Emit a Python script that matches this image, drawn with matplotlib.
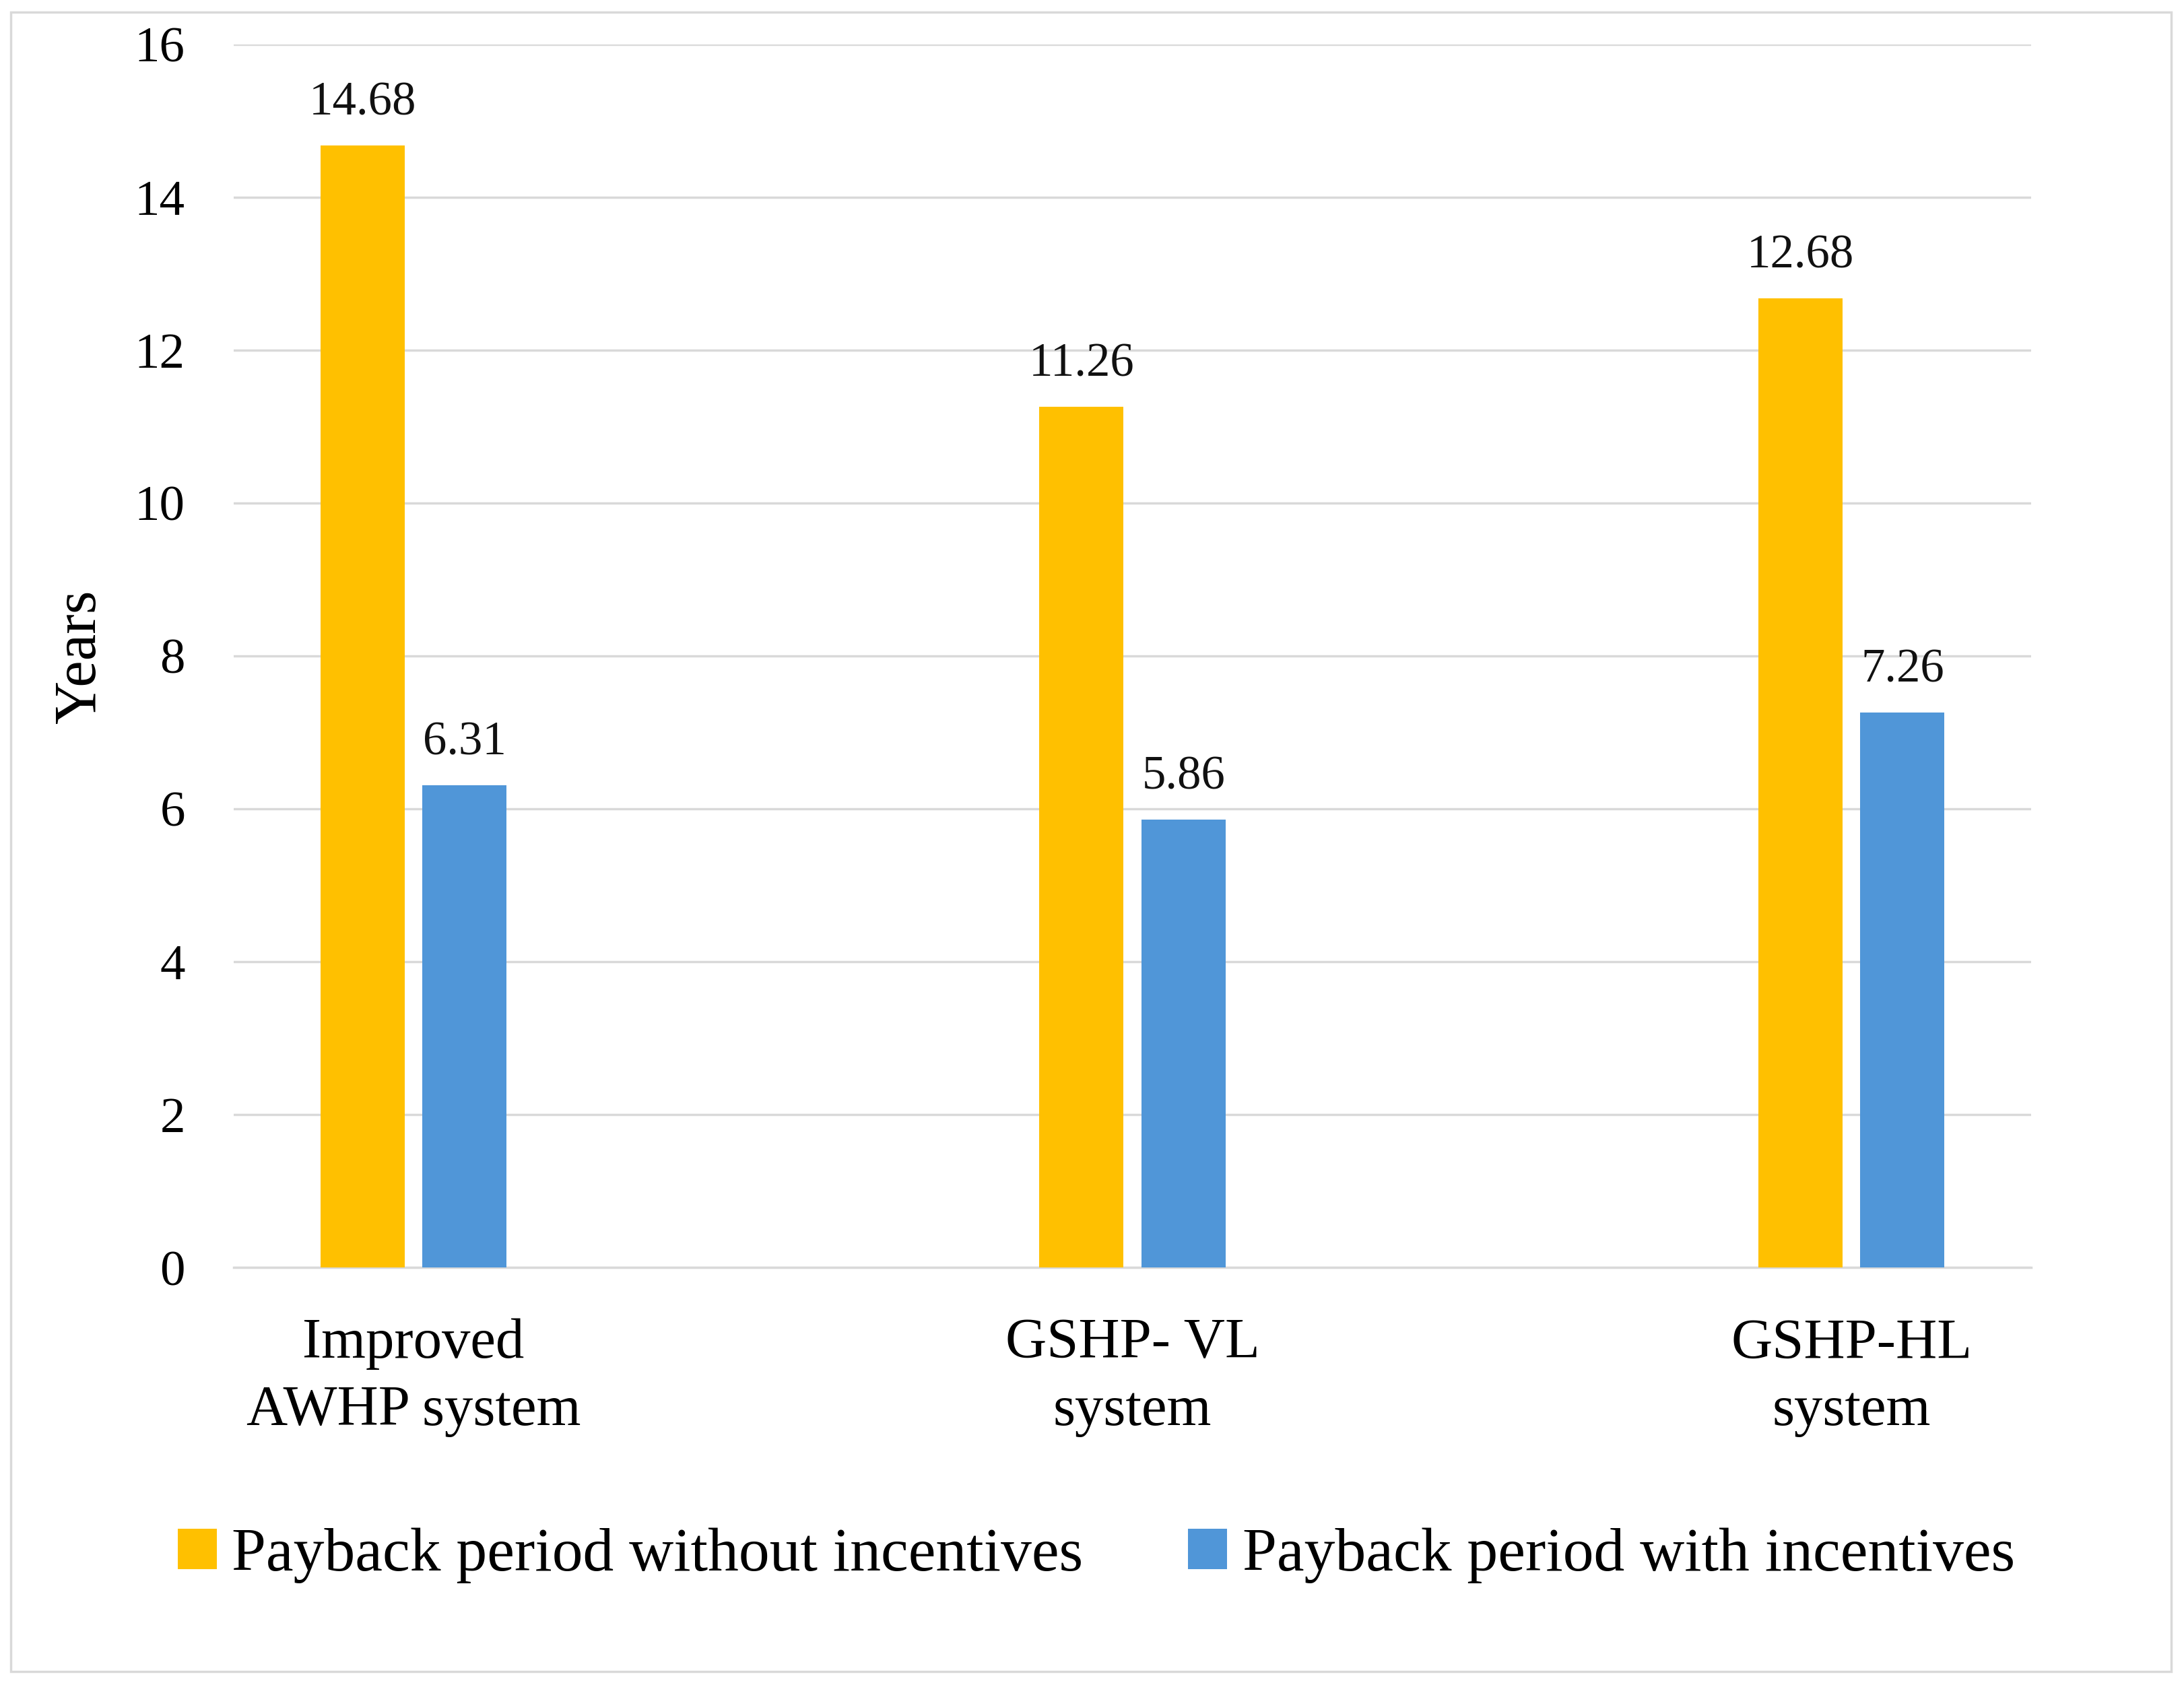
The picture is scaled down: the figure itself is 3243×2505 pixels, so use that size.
import matplotlib.pyplot as plt
import numpy as np
from matplotlib.patches import Rectangle

# data
categories = ["Improved\nAWHP system", "GSHP- VL\nsystem", "GSHP-HL\nsystem"]
without_incentives = [14.68, 11.26, 12.68]
with_incentives = [6.31, 5.86, 7.26]
series_names = ["Payback period without incentives", "Payback period with incentives"]
yticks = [0, 2, 4, 6, 8, 10, 12, 14, 16]

plt.rcParams['font.family'] = ['Liberation Serif', 'DejaVu Serif']

YELLOW = "#FFC000"
BLUE = "#5096D8"
GRID = "#D9D9D9"

fig = plt.figure(figsize=(32.43, 25.05), dpi=100)
ax = fig.add_axes([0.107, 0.2486, 0.823, 0.725])

x = np.arange(len(categories))
w = 0.117
off = 0.071
b1 = ax.bar(x - off, without_incentives, w, color=YELLOW, label=series_names[0], zorder=3)
b2 = ax.bar(x + off, with_incentives, w, color=BLUE, label=series_names[1], zorder=3)

for bars, vals in [(b1, without_incentives), (b2, with_incentives)]:
    for r, v in zip(bars, vals):
        ax.annotate(f"{v:.2f}", (r.get_x() + r.get_width() / 2, v),
                    xytext=(0, 33), textcoords="offset points",
                    ha="center", va="baseline", fontsize=51, color="#111111")

ax.set_xlim(-0.25, 2.25)
ax.set_ylim(0, 16)
ax.set_yticks(yticks)
ax.set_xticks(x)
ax.set_xticklabels(categories, fontsize=61, linespacing=1.38)
ax.tick_params(axis="y", labelsize=54, length=0, pad=52)
ax.tick_params(axis="x", length=0, pad=54)
ax.yaxis.grid(True, color=GRID, linewidth=2.5, zorder=0)
for s in ["top", "right", "left"]:
    ax.spines[s].set_visible(False)
ax.spines["bottom"].set_color(GRID)
ax.spines["bottom"].set_linewidth(2.5)

fig.text(0.037, 0.611, "Years", rotation=90, fontsize=64, ha="center", va="center")

fig.legend(handles=[b1, b2], labels=series_names, loc="center", bbox_to_anchor=(0.502, 0.078),
           ncol=2, frameon=False, fontsize=66, handlelength=0.63, handleheight=0.63,
           handletextpad=0.25, columnspacing=1.7)

fig.patches.append(Rectangle((0.005, 0.009), 0.989, 0.984, transform=fig.transFigure,
                             fill=False, edgecolor=GRID, linewidth=2.5))

fig.savefig("out.png", dpi=100, facecolor="white")
